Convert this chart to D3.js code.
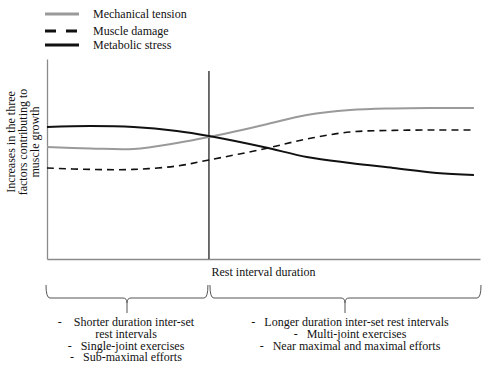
<!DOCTYPE html>
<html>
<head>
<meta charset="utf-8">
<script src="https://cdn.jsdelivr.net/npm/d3@7"></script>
<style>
  body { margin: 0; background: #fff; }
  svg { display: block; }
</style>
</head>
<body>
<svg id="chart" width="490" height="366"></svg>
<script>
// ---- data ----
const xs = [0, 1, 2, 3, 3.74, 5, 6, 7, 8, 9, 9.86];
const mechanicalTension = [56, 55.3, 55, 58, 61, 67, 72, 74.5, 75.3, 75.5, 75.5];
const muscleDamage = [45.5, 44.8, 44.8, 46.5, 49.5, 55, 60, 63.5, 64.3, 64.5, 64.5];
const metabolicStress = [66, 66.5, 66, 64, 61.5, 56, 51, 48, 45.5, 43, 42];
const seriesNames = ["Mechanical tension", "Muscle damage", "Metabolic stress"];
const dividerX = 3.74;
const dividerTop = 94;
const yLabelLines = ["Increases in the three", "factors contributing to", "muscle growth"];
const xLabel = "Rest interval duration";
const leftNotes = ["-\u00A0\u00A0\u00A0\u00A0Shorter duration inter-set", "rest intervals", "-\u00A0\u00A0\u00A0Single-joint exercises", "-\u00A0\u00A0\u00A0Sub-maximal efforts"];
const rightNotes = ["-\u00A0\u00A0\u00A0Longer duration inter-set rest intervals", "-\u00A0\u00A0\u00A0Multi-joint exercises", "-\u00A0\u00A0\u00A0Near maximal and maximal efforts"];

const FONT = "'Liberation Serif', 'Times New Roman', Times, 'DejaVu Serif', serif";
const svg = d3.select("#chart").attr("font-family", FONT);
const x = d3.scaleLinear().domain([0, 10]).range([47, 480]);
const y = d3.scaleLinear().domain([0, 100]).range([259, 59]);

// axes (no ticks)
const gx = svg.append("g").attr("transform", `translate(0,${y(0)})`)
  .call(d3.axisBottom(x).tickValues([]).tickSizeOuter(0));
const gy = svg.append("g").attr("transform", `translate(${x(0)},0)`)
  .call(d3.axisLeft(y).tickValues([]).tickSizeOuter(0));
[gx, gy].forEach(g => g.select(".domain").attr("stroke", "#8a8a8a").attr("stroke-width", 1.3));

// divider
svg.append("line")
  .attr("x1", x(dividerX)).attr("x2", x(dividerX))
  .attr("y1", y(dividerTop)).attr("y2", y(0))
  .attr("stroke", "#333").attr("stroke-width", 1.4);

const styles = [
  { color: "#9a9a9a", dash: null, width: 2 },
  { color: "#111", dash: "7,5", width: 1.6 },
  { color: "#111", dash: null, width: 2 }
];
const allSeries = [mechanicalTension, muscleDamage, metabolicStress];
const line = d3.line().x((d, i) => x(xs[i])).y(d => y(d)).curve(d3.curveCatmullRom.alpha(0.5));

allSeries.forEach((s, k) => {
  svg.append("path").datum(s)
    .attr("d", line)
    .attr("fill", "none")
    .attr("stroke", styles[k].color)
    .attr("stroke-width", styles[k].width)
    .attr("stroke-dasharray", styles[k].dash);
});

// legend
const legY = [14, 31, 45];
const legStyles = [
  { color: "#9a9a9a", dash: null },
  { color: "#111", dash: "11,10" },
  { color: "#111", dash: null }
];
seriesNames.forEach((n, k) => {
  svg.append("line").attr("x1", 45).attr("x2", 79)
    .attr("y1", legY[k]).attr("y2", legY[k])
    .attr("stroke", legStyles[k].color).attr("stroke-width", 3)
    .attr("stroke-dasharray", legStyles[k].dash);
  svg.append("text").attr("x", 93).attr("y", legY[k] + 4)
    .attr("font-size", 12).attr("fill", "#111").text(n);
});

// y label
const yl = svg.append("text")
  .attr("transform", "translate(23,142) rotate(-90)")
  .attr("text-anchor", "middle").attr("font-size", 12).attr("fill", "#111");
yLabelLines.forEach((t, i) => {
  yl.append("tspan").attr("x", 0).attr("y", (i - 1) * 12 + 4).text(t);
});

// x label
svg.append("text").attr("x", (x(0) + x(10)) / 2).attr("y", 276)
  .attr("text-anchor", "middle").attr("font-size", 12).attr("fill", "#111").text(xLabel);

// braces
function brace(x0, x1, mid, top, base, tip) {
  const r = 4;
  return `M${x0},${top} Q${x0},${base} ${x0 + r},${base} L${mid - r},${base} Q${mid},${base} ${mid},${base + 5} L${mid},${tip} M${mid},${base + 5} Q${mid},${base} ${mid + r},${base} L${x1 - r},${base} Q${x1},${base} ${x1},${top}`;
}
svg.append("path").attr("d", brace(x(0) - 1, x(dividerX) - 1, 127, 285, 298, 313))
  .attr("fill", "none").attr("stroke", "#555").attr("stroke-width", 1);
svg.append("path").attr("d", brace(x(dividerX) + 1, x(10) + 1, 345, 285, 298, 313))
  .attr("fill", "none").attr("stroke", "#555").attr("stroke-width", 1);

// notes
leftNotes.forEach((t, i) => {
  svg.append("text").attr("x", 126).attr("y", 326 + i * 11.8)
    .attr("text-anchor", "middle").attr("font-size", 12).attr("fill", "#111").text(t);
});
rightNotes.forEach((t, i) => {
  svg.append("text").attr("x", 350).attr("y", 326 + i * 11.8)
    .attr("text-anchor", "middle").attr("font-size", 12).attr("fill", "#111").text(t);
});
</script>
</body>
</html>
